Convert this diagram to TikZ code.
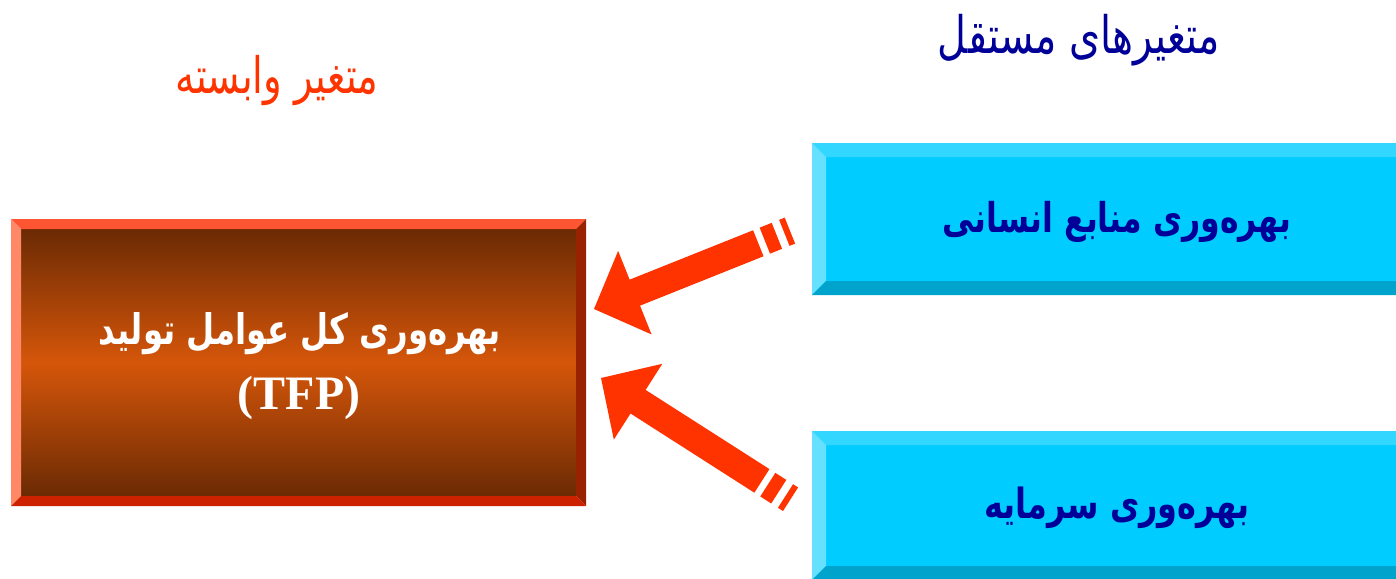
\documentclass[tikz,border=0pt]{standalone}
\usepackage{graphicx}
\usepackage{fontspec}
\usetikzlibrary{calc}
\TeXXeTstate=1
\newfontfamily\arabicfont[Script=Arabic]{DejaVu Sans}
\newfontfamily\tfpfont{Liberation Serif}
\definecolor{arrowred}{HTML}{FF3300}
\definecolor{titleblue}{HTML}{000099}
\definecolor{brdark}{HTML}{6B2A04}
\definecolor{brmid}{HTML}{D5560A}
\definecolor{brtop}{HTML}{FF5533}
\definecolor{brleft}{HTML}{FF8866}
\definecolor{brright}{HTML}{992200}
\definecolor{brbottom}{HTML}{CC2200}
\definecolor{cyfill}{HTML}{00CCFF}
\definecolor{cytop}{HTML}{33D6FF}
\definecolor{cyleft}{HTML}{66E0FF}
\definecolor{cybottom}{HTML}{00A3CC}
\newcommand{\mybevel}[6]{%
  % #1 node name, #2 bevel, #3 top, #4 left, #5 right, #6 bottom
  \fill[#3] (#1.north west) -- (#1.north east) -- ($(#1.north east)+(-#2,#2)$) -- ($(#1.north west)+(#2,#2)$) -- cycle;
  \fill[#4] (#1.north west) -- ($(#1.north west)+(#2,#2)$) -- ($(#1.south west)+(#2,-#2)$) -- (#1.south west) -- cycle;
  \fill[#5] (#1.north east) -- (#1.south east) -- ($(#1.south east)+(-#2,-#2)$) -- ($(#1.north east)+(-#2,#2)$) -- cycle;
  \fill[#6] (#1.south west) -- (#1.south east) -- ($(#1.south east)+(-#2,-#2)$) -- ($(#1.south west)+(#2,-#2)$) -- cycle;
}
\newcommand{\stripedarrow}[1]{%
  % #1 shaft length; tip at origin, axis along +x
  \fill[arrowred] (0,0) -- (44,-45) -- (44,-14) -- (#1,-14) -- (#1,14) -- (44,14) -- (44,45) -- cycle;
  \fill[arrowred] (#1+7,-14) rectangle (#1+20,14);
  \fill[arrowred] (#1+28,-14) rectangle (#1+34,14);
}
% fit text to a width, then stretch it vertically
\newcommand{\fitw}[3]{\scalebox{1}[#2]{\resizebox{#1}{!}{#3}}}
\tikzset{
  boxarea/.style={draw=none, inner sep=0pt, outer sep=0pt},
  arfont/.style={font=\arabicfont, inner sep=0pt},
  arbold/.style={font=\arabicfont\bfseries, inner sep=0pt},
}
\begin{document}
\begin{tikzpicture}[x=1pt,y=-1pt]
\useasboundingbox (0,0) rectangle (1396,578);
\clip (0,0) rectangle (1396,578);
\fill[white] (0,0) rectangle (1396,578);

% titles
\node[arfont, text=titleblue] (indep) at (1079,40) {\fitw{282pt}{1.3}{\beginR متغیرهای مستقل\endR}};
\node[arfont, text=arrowred] (dep) at (277,81) {\fitw{203pt}{1.3}{\beginR متغیر وابسته\endR}};

% left box
\node[boxarea, minimum width=575pt, minimum height=287pt] (tfp) at (298.5,362.5) {};
\shade[top color=brdark, bottom color=brdark, middle color=brmid]
  ($(tfp.north west)+(10,10)$) rectangle ($(tfp.south east)+(-10,-10)$);
\mybevel{tfp}{10}{brtop}{brleft}{brright}{brbottom}
\node[arbold, text=white] (tfpa) at (300,334) {\fitw{402pt}{1.3}{\beginR بهره^^^^200cوری کل عوامل تولید\endR}};
\node[font=\tfpfont\bfseries\fontsize{48}{54}\selectfont, text=white, inner sep=0pt] (tfpb) at (299,398) {(TFP)};

% right boxes
\node[boxarea, minimum width=612pt, minimum height=152pt] (hr) at (1118,219) {};
\fill[cyfill] (hr.north west) rectangle (hr.south east);
\mybevel{hr}{14}{cytop}{cyleft}{cybottom}{cybottom}
\node[arbold, text=titleblue] (hrt) at (1117,222) {\fitw{348pt}{1.3}{\beginR بهره^^^^200cوری منابع انسانی\endR}};

\node[boxarea, minimum width=612pt, minimum height=149pt] (cap) at (1118,505.5) {};
\fill[cyfill] (cap.north west) rectangle (cap.south east);
\mybevel{cap}{14}{cytop}{cyleft}{cybottom}{cybottom}
\node[arbold, text=titleblue] (capt) at (1117,508) {\fitw{265pt}{1.3}{\beginR بهره^^^^200cوری سرمایه\endR}};

% arrows
\coordinate (tipA) at (594,309);
\coordinate (tipB) at (601,378);
\begin{scope}[shift={(tipA)}, rotate=21.8]
  \stripedarrow{177}
\end{scope}
\begin{scope}[shift={(tipB)}, rotate=-32.6]
  \stripedarrow{191}
\end{scope}
\end{tikzpicture}
\end{document}
